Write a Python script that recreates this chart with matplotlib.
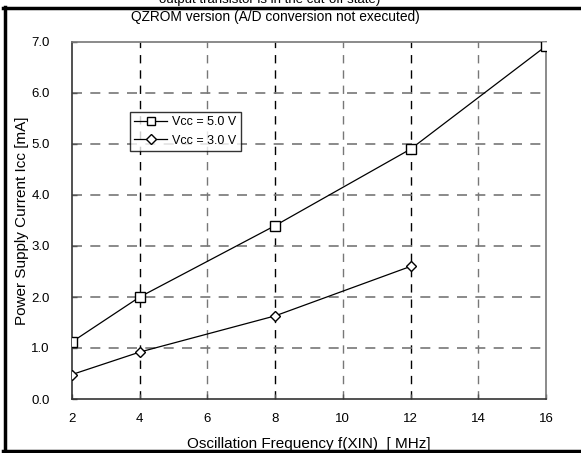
import matplotlib
matplotlib.use("Agg")
import matplotlib.pyplot as plt
from matplotlib.lines import Line2D

plt.rcParams['font.family'] = ['Liberation Sans', 'DejaVu Sans']

# 数据
freq_5v = [2, 4, 8, 12, 16]
icc_5v = [1.12, 2.0, 3.4, 4.9, 6.92]
freq_3v = [2, 4, 8, 12]
icc_3v = [0.48, 0.92, 1.63, 2.6]

xticks = [2, 4, 6, 8, 10, 12, 14, 16]
yticks = [0, 1, 2, 3, 4, 5, 6, 7]

fig = plt.figure(figsize=(5.81, 4.53), dpi=100)
W, H = 581, 453
ax = fig.add_axes([72 / W, 1 - 399 / H, (546 - 72) / W, (399 - 42) / H])

ax.set_xlim(2, 16)
ax.set_ylim(0, 7)
ax.set_xticks(xticks)
ax.set_yticks(yticks)
ax.set_yticklabels([f'{v:.1f}' for v in yticks])
ax.tick_params(direction='in', length=3.5, width=1, color='#555555',
               labelsize=9.5, pad=10)
ax.tick_params(axis='y', pad=16)

# 网格线
for x in xticks[1:-1]:
    c = 'black' if x in (4, 8, 12) else '#777777'
    ax.axvline(x, color=c, ls=(0, (6, 5)), lw=1, zorder=1)
for y in yticks[1:-1]:
    ax.axhline(y, color='#777777', ls=(0, (6, 5)), lw=1.2, zorder=1)

for s in ax.spines.values():
    s.set_color('#777777')
    s.set_linewidth(1.2)
ax.spines['bottom'].set_color('#333333')
ax.spines['left'].set_color('#333333')

ax.plot(freq_5v, icc_5v, color='black', lw=0.9, marker='s', ms=7,
        mfc='white', mec='black', mew=1, label='Vcc = 5.0 V', zorder=3)
ax.plot(freq_3v, icc_3v, color='black', lw=0.9, marker='D', ms=5.5,
        mfc='white', mec='black', mew=1, label='Vcc = 3.0 V', zorder=3)

leg = ax.legend(loc='upper left', bbox_to_anchor=((130 - 72) / 474, (399 - 112) / 357),
                frameon=True, fancybox=False, fontsize=9, handlelength=2.6,
                borderpad=0.35, labelspacing=0.5, handletextpad=0.4,
                borderaxespad=0, markerscale=0.85)
leg.get_frame().set_edgecolor('black')
leg.get_frame().set_linewidth(1)

ax.set_xlabel('Oscillation Frequency f(XIN)  [ MHz]', fontsize=11)
ax.xaxis.set_label_coords(0.5, -(437 - 399) / 357)
ax.set_ylabel('Power Supply Current Icc [mA]', fontsize=11)
ax.yaxis.set_label_coords(-(72 - 29) / 474, 0.5)
fig.text(275 / W, 1 - 17 / H, 'QZROM version (A/D conversion not executed)',
         ha='center', va='center', fontsize=9.9)
fig.text(270 / W, 1 - 0 / H, 'output transistor is in the cut-off state)',
         ha='center', va='center', fontsize=9.5)

# 外框
fig.add_artist(Line2D([4.5 / W, 4.5 / W], [1 - 7 / H, 1 - 451 / H], color='black', lw=2.5))
fig.add_artist(Line2D([3 / W, 1], [1 - 7.5 / H, 1 - 7.5 / H], color='black', lw=2.5))
fig.add_artist(Line2D([3 / W, 1], [1 - 451 / H, 1 - 451 / H], color='black', lw=2.5))

fig.savefig('out.png', dpi=100)
